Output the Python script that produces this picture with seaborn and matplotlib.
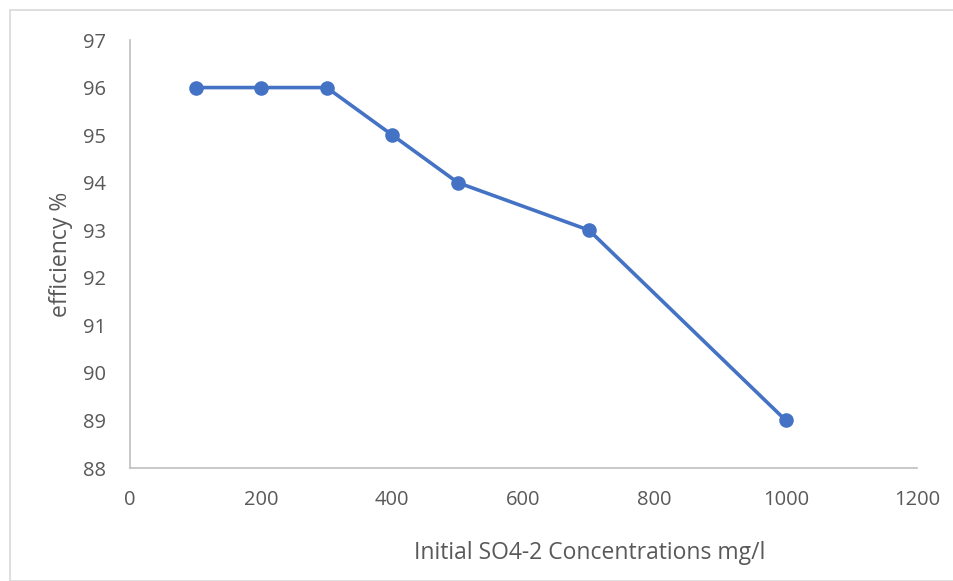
import matplotlib
matplotlib.use("Agg")
import matplotlib.pyplot as plt
import seaborn as sns
import pandas as pd
from matplotlib.patches import Rectangle

# Sulfate removal efficiency versus initial concentration
concentration = [100, 200, 300, 400, 500, 700, 1000]
efficiency = [96, 96, 96, 95, 94, 93, 89]
x_ticks = [0, 200, 400, 600, 800, 1000, 1200]
y_ticks = [88, 89, 90, 91, 92, 93, 94, 95, 96, 97]

sns.set_style("white")
plt.rcParams["font.family"] = ["Open Sans", "DejaVu Sans"]

df = pd.DataFrame({"conc": concentration, "eff": efficiency})

fig = plt.figure(figsize=(9.54, 5.81), dpi=100)
ax = fig.add_axes([130 / 954, 1 - 468 / 581, 787 / 954, 428 / 581])

sns.lineplot(data=df, x="conc", y="eff", ax=ax, color="#4472C4", linewidth=2.6,
             marker="o", markersize=10.5, markeredgewidth=0, markeredgecolor="#4472C4")

ax.set_xlim(0, 1200)
ax.set_ylim(88, 97)
ax.set_xticks(x_ticks)
ax.set_yticks(y_ticks)
ax.tick_params(axis="both", length=0, labelsize=14.5, labelcolor="#595959")
ax.tick_params(axis="x", pad=16)
ax.tick_params(axis="y", pad=17)

for side in ["top", "right"]:
    ax.spines[side].set_visible(False)
for side in ["left", "bottom"]:
    ax.spines[side].set_color("#BFBFBF")
    ax.spines[side].set_linewidth(1.2)

ax.set_xlabel("")
ax.set_ylabel("")
fig.text(590 / 954, 1 - 553 / 581, "Initial SO4-2 Concentrations mg/l",
         ha="center", va="center", fontsize=16.5, color="#595959")
fig.text(61 / 954, 1 - 254 / 581, "efficiency %", rotation=90,
         ha="center", va="center", fontsize=16.5, color="#595959")

# light frame around the chart area
fig.patches.append(Rectangle((10 / 954, 0), 1 - 10 / 954, 1 - 10 / 581,
                             transform=fig.transFigure, fill=False,
                             edgecolor="#D9D9D9", linewidth=1.2))

fig.savefig("out.png", dpi=100)
